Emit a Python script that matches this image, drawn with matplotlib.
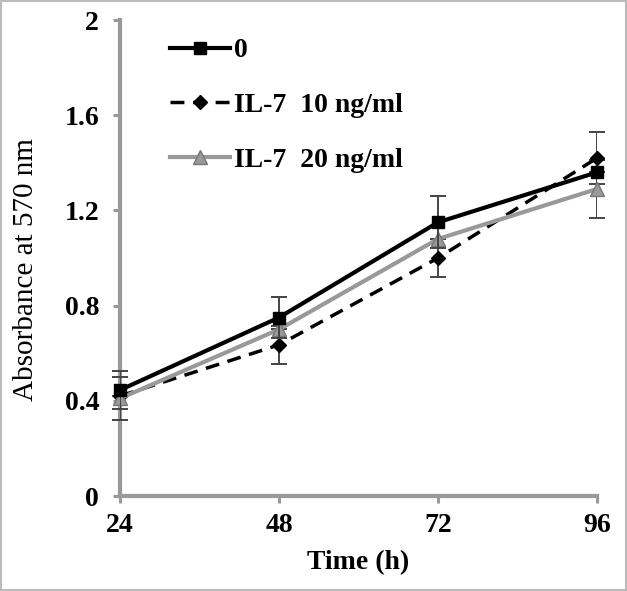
import matplotlib
matplotlib.use("Agg")
import matplotlib.pyplot as plt
from matplotlib.patches import Rectangle

hours = [24, 48, 72, 96]
ctrl = [0.445, 0.75, 1.15, 1.36]
ctrl_err = [0.08, 0.085, 0.11, 0.0]
il7_10 = [0.42, 0.635, 1.0, 1.42]
il7_10_err = [0.0, 0.08, 0.08, 0.11]
il7_20 = [0.41, 0.70, 1.08, 1.29]
il7_20_err = [0.09, 0.0, 0.0, 0.12]
labels = ["0", "IL-7  10 ng/ml", "IL-7  20 ng/ml"]
yticks = [0, 0.4, 0.8, 1.2, 1.6, 2]
ytick_labels = ["0", "0.4", "0.8", "1.2", "1.6", "2"]

plt.rcParams["font.family"] = "Liberation Serif"
plt.rcParams["font.weight"] = "bold"

fig = plt.figure(figsize=(6.27, 5.91), dpi=100)
ax = fig.add_axes([120 / 627, 95 / 591, 477 / 627, 476 / 591])

err_kw = dict(ecolor="#444444", elinewidth=1.4, capsize=6, capthick=1.4)
handles = []
e = ax.errorbar(hours, ctrl, yerr=ctrl_err, color="black", lw=3, marker="s",
                ms=9, zorder=4, **err_kw)
handles.append(e.lines[0])
e = ax.errorbar(hours, il7_10, yerr=il7_10_err, color="black", lw=2.5, ls=(0, (4, 2.5)),
                marker="D", ms=7, zorder=3, **err_kw)
handles.append(e.lines[0])
e = ax.errorbar(hours, il7_20, yerr=il7_20_err, color="#999999", lw=3, marker="^",
                ms=10, mfc="#999999", mec="#777777", zorder=3, **err_kw)
handles.append(e.lines[0])

ax.set_xlim(24, 96)
ax.set_ylim(0, 2)
ax.set_xticks(hours)
ax.set_yticks(yticks)
ax.set_yticklabels(ytick_labels)
ax.tick_params(labelsize=20, color="#999999", width=2.2, length=5)
ax.tick_params(axis="y", pad=10)
ax.tick_params(axis="x", pad=7)
for s in ["top", "right"]:
    ax.spines[s].set_visible(False)
for s in ["left", "bottom"]:
    ax.spines[s].set_color("#999999")
    ax.spines[s].set_linewidth(3)
for ln in ax.lines:
    ln.set_clip_on(False)

ax.set_xlabel("Time (h)", fontsize=20, fontweight="bold", labelpad=9)
ax.set_ylabel("Absorbance at 570 nm", fontsize=21, fontweight="normal")
ax.yaxis.set_label_coords(-0.17, 0.475)

ax.legend(handles, labels, loc="upper left", bbox_to_anchor=(0.053, 1.015), frameon=False,
          fontsize=20, handlelength=2.15, handletextpad=0.15, labelspacing=1.05)

fig.patches.append(Rectangle((0.002, 0.002), 0.996, 0.996, transform=fig.transFigure,
                             fill=False, edgecolor="#bbbbbb", lw=1.5))

fig.savefig("out.png", dpi=100)
